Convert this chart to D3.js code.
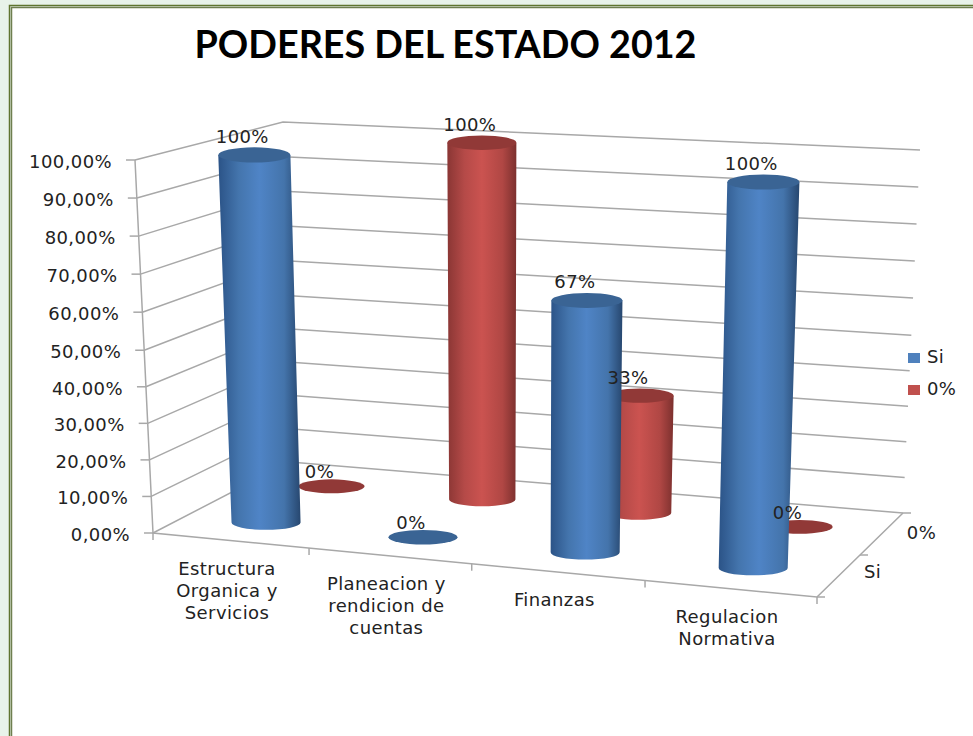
<!DOCTYPE html>
<html>
<head>
<meta charset="utf-8">
<script src="https://d3js.org/d3.v7.min.js"></script>
<style>
  body { margin: 0; background: #e8f3ea; }
  text { font-family: "DejaVu Sans", sans-serif; font-size: 18px; letter-spacing: 0.4px; fill: #222; }
</style>
</head>
<body>
<div id="chart"></div>
<script>
var titleText = "PODERES DEL ESTADO 2012";
var categories = [["Estructura", "Organica y", "Servicios"], ["Planeacion y", "rendicion de", "cuentas"], ["Finanzas"], ["Regulacion", "Normativa"]];
var seriesNames = ["Si", "0%"];
var siValues = [1, 0, 0.67, 1];
var ceroValues = [0, 1, 0.33, 0];
var valueTicks = [0, 0.1, 0.2, 0.3, 0.4, 0.5, 0.6, 0.7, 0.8, 0.9, 1];
var seriesColors = ["#4f81bd", "#c0504d"];

var width = 973, height = 736;

var svg = d3.select("#chart").append("svg")
    .attr("width", width)
    .attr("height", height)
    .style("display", "block");

// page frame, open on the right and bottom
svg.append("rect").attr("x", 11).attr("y", 7).attr("width", 970).attr("height", 740).attr("fill", "#fff");
svg.append("path").attr("d", "M9.5,736V5.5H973").attr("fill", "none").attr("stroke", "#5f7530").attr("stroke-width", 1.5);
svg.append("path").attr("d", "M11.5,736V7.5H973").attr("fill", "none").attr("stroke", "#6f7f50").attr("stroke-width", 1.5);

svg.append("text").attr("x", 445.5).attr("y", 58)
    .attr("text-anchor", "middle")
    .style("font-family", "Lato")
    .style("font-weight", "bold")
    .style("font-size", "37.7px")
    .style("letter-spacing", "0")
    .style("fill", "#000")
    .text(titleText);

// scales into the unit box of the 3d plot (uneven because of the perspective)
var catScale = d3.scaleLinear().domain([0, 1, 2, 3, 4]).range([0, 0.235, 0.48, 0.741, 1]);
var barScale = d3.scaleLinear().domain([0.5, 1.5, 2.5, 3.5]).range([0.121, 0.362, 0.611, 0.869]);
var depthScale = d3.scaleLinear().domain([0, 2]).range([0, 1]);
var valueScale = d3.scaleLinear().domain([0, 0.5, 1]).range([0, 0.49, 1]);

// screen position of the box corners: [u, depth, value]
var corners = {
  "000": [153, 533], "100": [817, 597], "010": [290, 462], "110": [903, 513],
  "001": [135, 160], "101": [830, 199], "011": [283, 122], "111": [920, 150]
};

function project(u, d, v) {
  var p = [0, 0];
  [0, 1].forEach(function(a) {
    [0, 1].forEach(function(b) {
      [0, 1].forEach(function(c) {
        var w = (a ? u : 1 - u) * (b ? d : 1 - d) * (c ? v : 1 - v);
        var k = corners["" + a + b + c];
        p[0] += k[0] * w;
        p[1] += k[1] * w;
      });
    });
  });
  return p;
}

var line = d3.line();

// gridlines on the side wall and back wall
var gridColor = "#a8a8a8";
var grid = svg.append("g").attr("fill", "none").attr("stroke", gridColor).attr("stroke-width", 1.5);
valueTicks.forEach(function(t) {
  var v = valueScale(t);
  grid.append("path").attr("d", line([project(0, 0, v), project(0, 1, v), project(1, 1, v)]));
  var p = project(0, 0, v);
  grid.append("path").attr("d", line([[p[0] - 9, p[1]], p]));
  svg.append("text")
      .attr("x", p[0] - 23)
      .attr("y", p[1] + 8)
      .attr("text-anchor", "end")
      .text(d3.format(".2f")(t * 100).replace(".", ",") + "%");
});

// axes on the floor edges
grid.append("path").attr("d", line([project(0, 0, 1), project(0, 0, 0), project(1, 0, 0), project(1, 1, 0)]));
d3.range(categories.length + 1).forEach(function(i) {
  var p = project(catScale(i), 0, 0);
  grid.append("path").attr("d", line([p, [p[0], p[1] + 7]]));
});
[0, 1, 2].forEach(function(i) {
  var p = project(1, depthScale(i), 0);
  grid.append("path").attr("d", line([p, [p[0] + 8, p[1]]]));
});

// category labels
categories.forEach(function(lines, i) {
  var p = project(catScale(i + 0.5), 0, 0);
  var label = svg.append("text").attr("text-anchor", "middle");
  lines.forEach(function(s, j) {
    label.append("tspan")
        .attr("x", p[0] - 4)
        .attr("y", p[1] + 34 + j * 22)
        .text(s);
  });
});

// depth labels
seriesNames.forEach(function(s, i) {
  var p = project(1, depthScale(i + 0.5), 0);
  svg.append("text")
      .attr("x", p[0] + 34 + i * 6)
      .attr("y", p[1] + 2 + i * 3)
      .attr("text-anchor", "middle")
      .text(s);
});

// cylinder shading
var defs = svg.append("defs");
[["blue", "#2b5387", "#4475ad", "#4f84c6", "#4474ab", "#27476f"], ["red", "#8a3634", "#b54a48", "#cb5350", "#b04744", "#7c302e"]].forEach(function(g) {
  var grad = defs.append("linearGradient").attr("id", "grad-" + g[0]);
  [0, 25, 50, 80, 100].forEach(function(o, k) {
    grad.append("stop").attr("offset", o + "%").attr("stop-color", g[k + 1]);
  });
});

var halfBar = 0.053;
var ryRatio = 0.21;

function drawBar(layer, i, s, value) {
  var u = barScale(i + 0.5), d = depthScale(s === 0 ? 0.5 : 1.5), v = valueScale(value);
  var bottom = project(u, d, 0), top = project(u, d, v);
  var rxB = (project(u + halfBar, d, 0)[0] - project(u - halfBar, d, 0)[0]) / 2;
  var rxT = (project(u + halfBar, d, v)[0] - project(u - halfBar, d, v)[0]) / 2;
  var ryB = rxB * ryRatio, ryT = rxT * ryRatio;
  var name = s === 0 ? "blue" : "red";
  if (value > 0) {
    layer.append("path")
        .attr("d", "M" + (top[0] - rxT) + "," + top[1] +
          "L" + (bottom[0] - rxB) + "," + bottom[1] +
          "A" + rxB + "," + ryB + " 0 0 0 " + (bottom[0] + rxB) + "," + bottom[1] +
          "L" + (top[0] + rxT) + "," + top[1] + "Z")
        .attr("fill", "url(#grad-" + name + ")");
  }
  layer.append("ellipse")
      .attr("cx", top[0]).attr("cy", top[1])
      .attr("rx", rxT).attr("ry", ryT)
      .attr("fill", s === 0 ? "#3a6494" : "#913937");
}

var bars = svg.append("g");
categories.forEach(function(c, i) {
  drawBar(bars, i, 1, ceroValues[i]);
  drawBar(bars, i, 0, siValues[i]);
});

// data labels go over the bars
[siValues, ceroValues].forEach(function(vals, s) {
  vals.forEach(function(value, i) {
    var p = project(barScale(i + 0.5), depthScale(s === 0 ? 0.5 : 1.5), valueScale(value));
    svg.append("text")
        .attr("x", p[0] - 12)
        .attr("y", p[1] + (value > 0 ? -12 : -8))
        .attr("text-anchor", "middle")
        .text(d3.format(".0%")(value));
  });
});

// legend
seriesNames.forEach(function(s, i) {
  svg.append("rect")
      .attr("x", 908).attr("y", 353 + i * 32)
      .attr("width", 12).attr("height", 10)
      .attr("fill", seriesColors[i]);
  svg.append("text")
      .attr("x", 927).attr("y", 363 + i * 32)
      .text(s);
});
</script>
</body>
</html>
